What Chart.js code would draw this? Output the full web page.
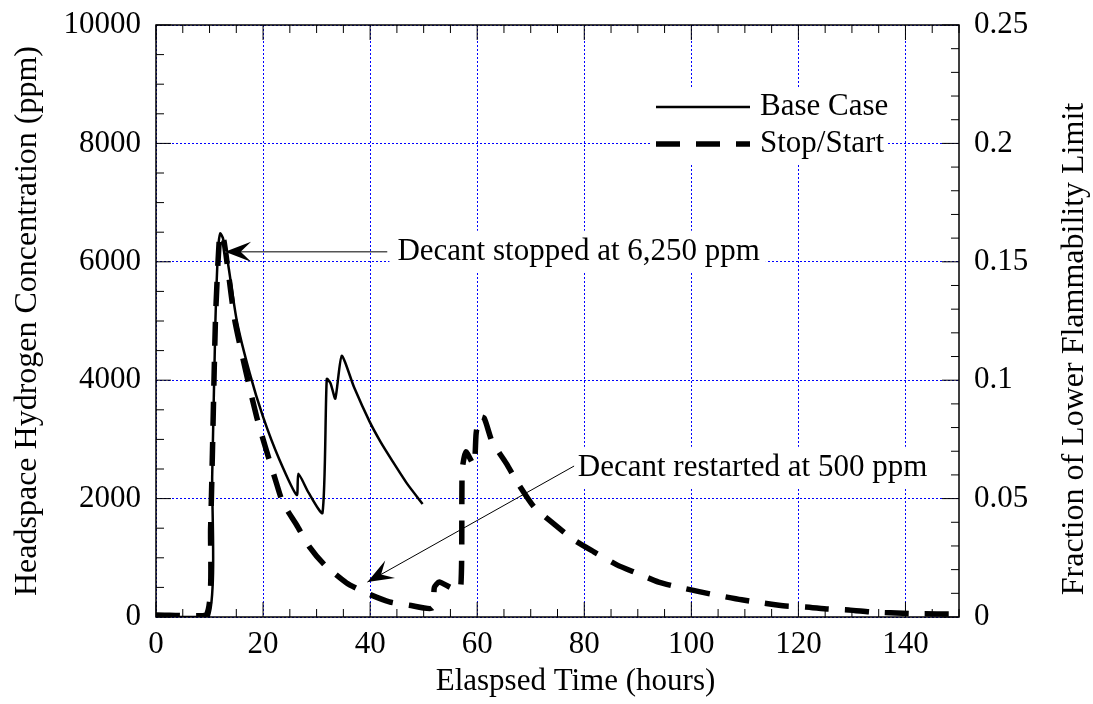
<!DOCTYPE html>
<html>
<head>
<meta charset="utf-8">
<script src="https://cdn.jsdelivr.net/npm/chart.js@4.4.0/dist/chart.umd.min.js"></script>
<style>
  body { margin: 0; background: #fff; }
  #wrap { width: 1093px; height: 704px; }
</style>
</head>
<body>
<div id="wrap"><canvas id="chartOne" width="1093" height="704"></canvas></div>
<script>
// Base Case: elapsed time (hours) and headspace H2 (ppm)
let baseHours = [0, 9.8, 10.5, 11.1, 11.6, 12.0, 12.5, 13.4, 15.1, 17.5, 20.0, 23.0, 26.3, 26.6, 28.5, 31.1,
    31.9, 32.6, 33.5, 34.7, 37.0, 39.9, 42.0, 44.2, 47.0, 49.8];
let basePpm = [0, 0, 2400, 5000, 6200, 6480, 6400, 6000, 5000, 4120, 3380, 2670, 2060, 2420, 2100, 1760,
    4020, 3950, 3690, 4410, 3880, 3300, 2950, 2630, 2240, 1910];

// Stop/Start case
let stopHours = [0, 9.4, 10.2, 11.1, 11.8, 12.2, 12.7, 13.4, 14.7, 16.6, 18.8, 20.5, 22.5, 23.7, 26.3, 28.7,
    31.5, 35.6, 39.3, 43.6, 47.3, 51.6, 52.0, 52.9, 55.2, 56.9, 57.2, 57.9, 59.4, 59.8, 60.4, 61.3,
    62.8, 65.4, 67.8, 70.6, 73.4, 78.1, 81.8, 86.1, 89.7, 93.9, 97.6, 101.9, 105.5, 109.4, 113.5,
    117.6, 121.3, 125.6, 129.4, 133.6, 137.2, 141.8, 150];
let stopPpm = [35, 35, 1500, 5000, 6350, 6480, 6350, 5900, 5020, 4220, 3380, 2850, 2260, 1930, 1550, 1180,
    880, 575, 405, 255, 200, 150, 500, 590, 490, 470, 2480, 2790, 2570, 3100, 3380, 3360,
    2960, 2600, 2230, 1860, 1640, 1300, 1100, 880, 745, 590, 505, 420, 355, 290, 235,
    185, 170, 135, 120, 85, 70, 55, 50];

let seriesNames = ['Base Case', 'Stop/Start'];
let xTicks = [0, 20, 40, 60, 80, 100, 120, 140];
let yTicks = [0, 2000, 4000, 6000, 8000, 10000];
let fracTicks = [0, 0.05, 0.1, 0.15, 0.2, 0.25];

// annotations: arrow tip, arrow tail, text start (hours, ppm)
let notes = [
    {text: 'Decant stopped at 6,250 ppm', tip: [12.9, 6170], tail: [43.2, 6170], at: [45.1, 6170], color: '#555'},
    {text: 'Decant restarted at 500 ppm', tip: [39.5, 590], tail: [78.1, 2550], at: [78.8, 2520], color: '#000'}
];

const FONT = 'Liberation Serif, Times New Roman, serif';

function arrowHead(ctx, x1, y1, x2, y2) {
    // barbed arrow head pointing at (x2, y2)
    let a = Math.atan2(y2 - y1, x2 - x1);
    let len = 26, wid = 10;
    ctx.save();
    ctx.translate(x2, y2);
    ctx.rotate(a);
    ctx.beginPath();
    ctx.moveTo(0, 0);
    ctx.lineTo(-len, -wid);
    ctx.lineTo(-len * 0.6, 0);
    ctx.lineTo(-len, wid);
    ctx.closePath();
    ctx.fillStyle = '#000';
    ctx.fill();
    ctx.restore();
}

const decorPlugin = {
    id: 'decor',
    afterDatasetsDraw(chart) {
        const ctx = chart.ctx;
        const ca = chart.chartArea;
        const x = chart.scales.x, y = chart.scales.y, y2 = chart.scales.y2;
        ctx.save();
        ctx.font = '31px ' + FONT;
        ctx.textBaseline = 'middle';

        // annotations
        notes.forEach(n => {
            let tx = x.getPixelForValue(n.at[0]), ty = y.getPixelForValue(n.at[1]);
            let w = ctx.measureText(n.text).width;
            ctx.fillStyle = '#fff';
            ctx.fillRect(tx - 8, ty - 21, w + 14, 42);
            let x1 = x.getPixelForValue(n.tail[0]), y1 = y.getPixelForValue(n.tail[1]);
            let x2 = x.getPixelForValue(n.tip[0]), y2p = y.getPixelForValue(n.tip[1]);
            ctx.strokeStyle = n.color;
            ctx.lineWidth = n.color === '#000' ? 1 : 1.5;
            ctx.beginPath();
            ctx.moveTo(x1, y1);
            ctx.lineTo(x2, y2p);
            ctx.stroke();
            arrowHead(ctx, x1, y1, x2, y2p);
            ctx.fillStyle = '#000';
            ctx.fillText(n.text, tx, ty);
        });

        // legend
        let lx = 656, ly = 107;
        ctx.fillStyle = '#fff';
        ctx.fillRect(lx - 6, ly - 19, 238, 77);
        chart.data.datasets.forEach((ds, i) => {
            let yy = ly + i * 37;
            ctx.strokeStyle = '#000';
            ctx.lineWidth = ds.borderWidth;
            ctx.setLineDash(ds.borderDash || []);
            ctx.beginPath();
            ctx.moveTo(lx, yy);
            ctx.lineTo(lx + 94, yy);
            ctx.stroke();
            ctx.setLineDash([]);
            ctx.fillStyle = '#000';
            ctx.fillText(ds.label, lx + 104, yy);
        });

        // frame and inward ticks
        ctx.strokeStyle = '#000';
        ctx.lineWidth = 1;
        const seg = (a, b, c, d) => { ctx.beginPath(); ctx.moveTo(a, b); ctx.lineTo(c, d); ctx.stroke(); };
        for (let h = 0; h <= x.max; h += 5) {
            let px = x.getPixelForValue(h);
            let len = h % 20 === 0 ? 15 : 8;
            seg(px, ca.bottom, px, ca.bottom - len);
            seg(px, ca.top, px, ca.top + len);
        }
        for (let v = 0; v <= y.max; v += 500) {
            let py = y.getPixelForValue(v);
            let len = v % 2000 === 0 ? 15 : 8;
            seg(ca.left, py, ca.left + len, py);
        }
        for (let k = 0; k <= 25; k++) {
            let py = y2.getPixelForValue(k / 100);
            let len = k % 5 === 0 ? 17 : 8;
            seg(ca.right, py, ca.right - len, py);
        }
        ctx.lineWidth = 1.5;
        ctx.strokeRect(ca.left, ca.top, ca.right - ca.left, ca.bottom - ca.top);

        // x axis title
        ctx.fillStyle = '#000';
        ctx.textAlign = 'center';
        ctx.fillText('Elaspsed Time (hours)', (ca.left + ca.right) / 2 + 18, 682);

        // right axis title, reading upward
        ctx.save();
        ctx.font = '32px ' + FONT;
        ctx.translate(1075, (ca.top + ca.bottom) / 2 + 28);
        ctx.rotate(-Math.PI / 2);
        ctx.fillText('Fraction of Lower Flammability Limit', 0, 0);
        ctx.restore();
        ctx.restore();
    }
};

const tickFont = {family: FONT, size: 31};
const titleFont = {family: FONT, size: 32};
const gridBlue = {color: '#0000ff', lineWidth: 1, drawTicks: false};

var ctx = document.getElementById('chartOne').getContext('2d');
var chartOne = new Chart(ctx, {
    type: 'line',
    data: {
        datasets: [{
            label: seriesNames[0],
            data: baseHours.map((h, i) => ({x: h, y: basePpm[i]})),
            borderColor: '#000',
            borderWidth: 2.5,
            pointRadius: 0,
            tension: 0.2,
            fill: false
        }, {
            label: seriesNames[1],
            data: stopHours.map((h, i) => ({x: h, y: stopPpm[i]})),
            borderColor: '#000',
            borderWidth: 5.5,
            borderDash: [24, 16],
            pointRadius: 0,
            tension: 0.2,
            fill: false
        }]
    },
    options: {
        responsive: false,
        animation: false,
        layout: {padding: {top: 25, left: 0, right: 0, bottom: 0}},
        plugins: {legend: {display: false}, tooltip: {enabled: false}},
        scales: {
            x: {
                type: 'linear',
                min: 0, max: 150,
                afterBuildTicks: s => { s.ticks = xTicks.map(v => ({value: v})); },
                afterFit: s => { s.height = 87; s.paddingLeft = 0; s.paddingRight = 0; },
                grid: gridBlue,
                border: {display: false, dash: [2, 2]},
                ticks: {font: tickFont, color: '#000', padding: 9, maxRotation: 0,
                    callback: v => String(v)}
            },
            y: {
                position: 'left',
                min: 0, max: 10000,
                afterBuildTicks: s => { s.ticks = yTicks.map(v => ({value: v})); },
                afterFit: s => { s.width = 156; s.paddingTop = 0; s.paddingBottom = 0; },
                grid: gridBlue,
                border: {display: false, dash: [2, 2]},
                ticks: {font: tickFont, color: '#000', padding: 15, callback: v => String(v)},
                title: {display: true, text: 'Headspace Hydrogen Concentration (ppm)', font: titleFont,
                    color: '#000', padding: {top: 8, bottom: 0}}
            },
            y2: {
                position: 'right',
                min: 0, max: 0.25,
                afterBuildTicks: s => { s.ticks = fracTicks.map(v => ({value: v})); },
                afterFit: s => { s.width = 134; s.paddingTop = 0; s.paddingBottom = 0; },
                grid: {display: false, drawTicks: false},
                border: {display: false},
                ticks: {font: tickFont, color: '#000', padding: 15, callback: v => String(+v.toFixed(2))}
            }
        }
    },
    plugins: [decorPlugin]
});
</script>
</body>
</html>
